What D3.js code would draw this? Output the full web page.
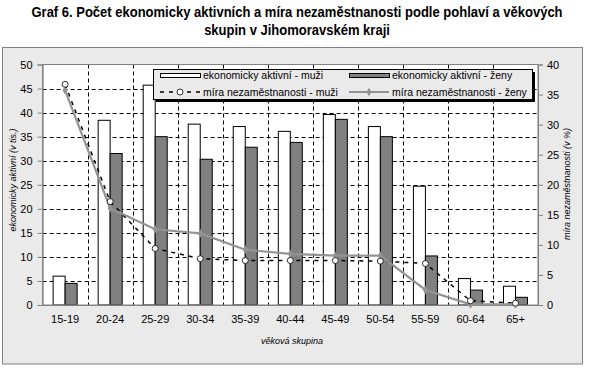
<!DOCTYPE html>
<html>
<head>
<meta charset="utf-8">
<script src="https://cdn.jsdelivr.net/npm/d3@7/dist/d3.min.js"></script>
<style>
  body { margin: 0; background: #fff; }
  svg { display: block; font-family: "Liberation Sans", Arial, sans-serif; }
</style>
</head>
<body>
<div id="chart"></div>
<script>
// DATA
const categories = ["15-19", "20-24", "25-29", "30-34", "35-39", "40-44", "45-49", "50-54", "55-59", "60-64", "65+"];
const activeMen = [6.0, 38.4, 45.7, 37.6, 37.1, 36.1, 39.6, 37.1, 24.7, 5.5, 3.9];
const activeWomen = [4.5, 31.5, 35.0, 30.3, 32.8, 33.8, 38.6, 35.0, 10.2, 3.1, 1.6];
const unempMen = [36.7, 17.2, 9.4, 7.7, 7.4, 7.4, 7.4, 7.3, 6.9, 0.7, 0.3];
const unempWomen = [35.7, 16.1, 12.6, 11.9, 9.2, 8.5, 8.2, 8.2, 2.5, 0.1, 0.1];
const leftTicks = [0, 5, 10, 15, 20, 25, 30, 35, 40, 45, 50];
const rightTicks = [0, 5, 10, 15, 20, 25, 30, 35, 40];

const W = 595, H = 372;
const plot = {left: 42.6, right: 538, top: 64.5, bottom: 305};

const svg = d3.select("#chart").append("svg").attr("width", W).attr("height", H);

//TITLE (narrow bold look, squeezed horizontally)
const title = svg.append("g").attr("transform", "translate(297,0) scale(0.93,1)")
    .append("text").attr("text-anchor", "middle")
    .style("font-weight", "bold").style("font-size", "14px");
title.append("tspan").attr("x", 0).attr("y", 17)
    .text("Graf 6. Počet ekonomicky aktivních a míra nezaměstnanosti podle pohlaví a věkových");
title.append("tspan").attr("x", 0).attr("y", 35)
    .text("skupin v Jihomoravském kraji");

//CHART AREA
svg.append("rect").attr("x", 2.5).attr("y", 47.5).attr("width", 580).attr("height", 316.5)
    .attr("fill", "#eaeaea").attr("stroke", "#808080");

//SCALES
const x = d3.scaleBand().domain(categories).range([plot.left, plot.right]);
const inner = d3.scaleBand().domain(["m", "z"]).range([-12, 12]);
const yL = d3.scaleLinear().domain([0, 50]).range([plot.bottom, plot.top]);
const yR = d3.scaleLinear().domain([0, 40]).range([plot.bottom, plot.top]);

svg.append("rect").attr("x", plot.left).attr("y", plot.top)
    .attr("width", plot.right - plot.left).attr("height", plot.bottom - plot.top)
    .attr("fill", "#fff");

//GRID
const grid = svg.append("g").attr("stroke", "#000").attr("stroke-dasharray", "4,3").attr("stroke-width", 1);
grid.selectAll(".h").data(leftTicks.filter(d => d > 0 && d < 50)).enter().append("line")
    .attr("x1", plot.left).attr("x2", plot.right)
    .attr("y1", d => Math.round(yL(d)) + 0.5).attr("y2", d => Math.round(yL(d)) + 0.5);
grid.selectAll(".v").data(categories.slice(1)).enter().append("line")
    .attr("x1", d => Math.round(x(d)) + 0.5).attr("x2", d => Math.round(x(d)) + 0.5)
    .attr("y1", plot.top).attr("y2", plot.bottom);

//BARS
const groups = svg.append("g").selectAll("g").data(categories).enter().append("g")
    .attr("transform", d => "translate(" + (x(d) + x.bandwidth() / 2) + ",0)");
groups.append("rect")
    .attr("x", inner("m")).attr("width", inner.bandwidth())
    .attr("y", (d, i) => yL(activeMen[i])).attr("height", (d, i) => plot.bottom - yL(activeMen[i]))
    .attr("fill", "#fff").attr("stroke", "#000");
groups.append("rect")
    .attr("x", inner("z")).attr("width", inner.bandwidth())
    .attr("y", (d, i) => yL(activeWomen[i])).attr("height", (d, i) => plot.bottom - yL(activeWomen[i]))
    .attr("fill", "#808080").attr("stroke", "#000");

//PLOT BORDER + AXES
svg.append("rect").attr("x", plot.left).attr("y", plot.top)
    .attr("width", plot.right - plot.left).attr("height", plot.bottom - plot.top)
    .attr("fill", "none").attr("stroke", "#808080");

const axL = svg.append("g").attr("transform", "translate(" + plot.left + ",0)")
    .call(d3.axisLeft(yL).tickValues(leftTicks).tickSize(5).tickPadding(5));
const axR = svg.append("g").attr("transform", "translate(" + plot.right + ",0)")
    .call(d3.axisRight(yR).tickValues(rightTicks).tickSize(5).tickPadding(4));
const axB = svg.append("g").attr("transform", "translate(0," + plot.bottom + ")")
    .call(d3.axisBottom(x).tickSize(0).tickPadding(10));
[axL, axR, axB].forEach(a => {
    a.select(".domain").attr("stroke", "#808080");
    a.selectAll(".tick line").attr("stroke", "#808080");
    a.selectAll("text").style("font-size", "11px").attr("fill", "#000")
        .style("font-family", "'Liberation Sans', Arial, sans-serif");
});

//LINES
const cx = d => x(d) + x.bandwidth() / 2;
const lineM = d3.line().x((d, i) => cx(categories[i])).y(d => yR(d));
svg.append("path").datum(unempMen).attr("d", lineM)
    .attr("fill", "none").attr("stroke", "#000").attr("stroke-width", 1.5).attr("stroke-dasharray", "4,5");
svg.append("path").datum(unempWomen).attr("d", lineM)
    .attr("fill", "none").attr("stroke", "#939393").attr("stroke-width", 2.2);
svg.selectAll(".dz").data(unempWomen).enter().append("path")
    .attr("d", d3.symbol().type(d3.symbolDiamond).size(22))
    .attr("transform", (d, i) => "translate(" + cx(categories[i]) + "," + yR(d) + ")")
    .attr("fill", "#939393");
svg.selectAll(".cm").data(unempMen).enter().append("circle")
    .attr("cx", (d, i) => cx(categories[i])).attr("cy", d => yR(d)).attr("r", 3)
    .attr("fill", "#fff").attr("stroke", "#000").attr("stroke-width", 0.8);

//AXIS TITLES
const italic = s => s.style("font-style", "italic").style("font-size", "9px");
svg.append("text").attr("transform", "translate(16,180) rotate(-90)")
    .attr("text-anchor", "middle").call(italic).text("ekonomicky aktivní (v tis.)");
svg.append("text").attr("transform", "translate(570,184) rotate(-90)")
    .attr("text-anchor", "middle").call(italic).text("míra nezaměstnanosti (v %)");
svg.append("text").attr("x", 292).attr("y", 344)
    .attr("text-anchor", "middle").call(italic).text("věková skupina");

//LEGEND
const lg = svg.append("g");
lg.append("rect").attr("x", 156).attr("y", 72).attr("width", 379).attr("height", 30).attr("fill", "#000");
lg.append("rect").attr("x", 153.5).attr("y", 69.5).attr("width", 379).attr("height", 30)
    .attr("fill", "#eaeaea").attr("stroke", "#000");
const legendText = (tx, ty, t) => lg.append("text").attr("x", tx).attr("y", ty)
    .style("font-size", "10.5px").text(t);
lg.append("rect").attr("x", 160.5).attr("y", 73.5).attr("width", 40).attr("height", 4)
    .attr("fill", "#fff").attr("stroke", "#000");
legendText(203, 79, "ekonomicky aktivní - muži");
lg.append("rect").attr("x", 349.5).attr("y", 73.5).attr("width", 40).attr("height", 4)
    .attr("fill", "#808080").attr("stroke", "#000");
legendText(392, 79, "ekonomicky aktivní - ženy");
lg.append("line").attr("x1", 160).attr("x2", 200).attr("y1", 92).attr("y2", 92)
    .attr("stroke", "#000").attr("stroke-width", 1.5).attr("stroke-dasharray", "4,5");
lg.append("circle").attr("cx", 180).attr("cy", 92).attr("r", 3)
    .attr("fill", "#fff").attr("stroke", "#000").attr("stroke-width", 0.8);
legendText(203, 96, "míra nezaměstnanosti - muži");
lg.append("line").attr("x1", 349).attr("x2", 389).attr("y1", 92).attr("y2", 92)
    .attr("stroke", "#939393").attr("stroke-width", 2.2);
lg.append("path").attr("d", d3.symbol().type(d3.symbolDiamond).size(22))
    .attr("transform", "translate(369,92)").attr("fill", "#939393");
legendText(392, 96, "míra nezaměstnanosti - ženy");
</script>
</body>
</html>
